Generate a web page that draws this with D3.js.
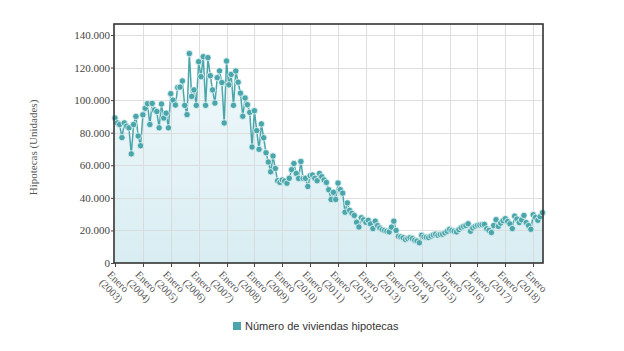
<!DOCTYPE html>
<html>
<head>
<meta charset="utf-8">
<script src="https://cdn.jsdelivr.net/npm/d3@7"></script>
<style>
  body { margin: 0; background: #fff; }
  svg { display: block; }
</style>
</head>
<body>
<div id="chart"></div>
<script>
// Monthly values (Enero ... Diciembre)
const v2003 = [89000, 86000, 85000, 77000, 86000, 84000, 83000, 67000, 85000, 90000, 78000, 72000];
const v2004 = [91000, 95000, 97800, 85000, 98000, 94000, 93000, 83000, 97600, 89000, 92000, 83000];
const v2005 = [104000, 100000, 97000, 107800, 108000, 111800, 96800, 91100, 128600, 102300, 106300, 96800];
const v2006 = [123600, 114400, 126700, 96800, 126100, 115000, 106300, 98200, 113800, 118000, 110800, 86000];
const v2007 = [124000, 109400, 115800, 96800, 117900, 111000, 104300, 90100, 101300, 97200, 92500, 71200];
const v2008 = [93500, 81300, 69800, 85400, 76900, 67700, 62000, 56000, 65700, 58000, 50500, 49500];
const v2009 = [51000, 50300, 49000, 52000, 57300, 61100, 55000, 51900, 62300, 51900, 52000, 47000];
const v2010 = [53600, 54000, 52000, 50500, 55000, 53000, 51000, 49500, 45000, 39000, 43400, 39000];
const v2011 = [49100, 45000, 42900, 31200, 36900, 32300, 30500, 29200, 25000, 22100, 27800, 26500];
const v2012 = [25000, 26200, 24000, 21100, 25700, 23000, 21500, 20500, 20000, 19500, 19100, 22000];
const v2013 = [25700, 20000, 16400, 16000, 15500, 14400, 15000, 15500, 15000, 14000, 13500, 12400];
const v2014 = [17000, 16000, 15800, 15600, 16500, 17200, 17700, 17000, 17500, 17700, 18500, 19500];
const v2015 = [20700, 20000, 19500, 19100, 20500, 21700, 22500, 23000, 24100, 19500, 21500, 22500];
const v2016 = [23100, 23300, 23500, 23700, 21000, 20000, 18700, 23000, 26600, 22500, 24500, 26000];
const v2017 = [27200, 25500, 24000, 21100, 28800, 27000, 24800, 26500, 29200, 24800, 23000, 20700];
const v2018 = [29600, 28000, 26200, 28500, 30900];

const tickYears = [2003, 2004, 2005, 2006, 2007, 2008, 2009, 2010, 2011, 2012, 2013, 2014, 2015, 2016, 2017, 2018];
const yTicks = [0, 20000, 40000, 60000, 80000, 100000, 120000, 140000];
const seriesName = 'Número de viviendas hipotecas';
const yTitle = 'Hipotecas (Unidades)';

// Build the monthly series: index = months since Enero 2003
const values = [].concat(v2003, v2004, v2005, v2006, v2007, v2008, v2009, v2010,
    v2011, v2012, v2013, v2014, v2015, v2016, v2017, v2018);
const data = values.map((v, i) => ({ m: i, v: v }));

const W = 624, H = 351;
const plot = { left: 114, right: 543, top: 24, bottom: 263 };
const color = '#4ba6ab';
const serif = '"Liberation Serif", "Times New Roman", serif';

const svg = d3.select('#chart').append('svg')
    .attr('width', W)
    .attr('height', H);

// Scales
const x = d3.scaleLinear()
    .domain([0, values.length - 1])
    .range([plot.left + 1, plot.right - 0.5]);
const y = d3.scaleLinear()
    .domain([0, 140000])
    .range([plot.bottom, 35]);

// Gradient for the area
const defs = svg.append('defs');
const grad = defs.append('linearGradient')
    .attr('id', 'areaGrad')
    .attr('x1', 0).attr('y1', 0).attr('x2', 0).attr('y2', 1);
grad.append('stop').attr('offset', '0%').attr('stop-color', '#f1f9fb');
grad.append('stop').attr('offset', '100%').attr('stop-color', '#d8edf2');

// Area under the line
const area = d3.area()
    .x(d => x(d.m))
    .y0(plot.bottom)
    .y1(d => y(d.v));
svg.append('path')
    .datum(data)
    .attr('d', area)
    .attr('fill', 'url(#areaGrad)');

// Grid lines (on top of area, light)
const grid = svg.append('g').attr('stroke', '#d9d9d9').attr('stroke-width', 1).attr('opacity', 0.85);
grid.selectAll('.gy')
    .data(yTicks.slice(1))
    .enter().append('line')
    .attr('x1', plot.left).attr('x2', plot.right)
    .attr('y1', d => Math.round(y(d)) + 0.5).attr('y2', d => Math.round(y(d)) + 0.5);
grid.selectAll('.gx')
    .data(tickYears.slice(1))
    .enter().append('line')
    .attr('x1', d => Math.round(x((d - 2003) * 12)) + 0.5)
    .attr('x2', d => Math.round(x((d - 2003) * 12)) + 0.5)
    .attr('y1', plot.top).attr('y2', plot.bottom);

// Line
const line = d3.line()
    .x(d => x(d.m))
    .y(d => y(d.v));
svg.append('path')
    .datum(data)
    .attr('d', line)
    .attr('fill', 'none')
    .attr('stroke', color)
    .attr('stroke-width', 1.5);

// Dots
svg.append('g').selectAll('circle')
    .data(data)
    .enter().append('circle')
    .attr('cx', d => x(d.m))
    .attr('cy', d => y(d.v))
    .attr('r', 3.2)
    .attr('fill', color)
    .attr('stroke', '#e8f6f7')
    .attr('stroke-width', 0.8);

// Frame
svg.append('rect')
    .attr('x', plot.left).attr('y', plot.top)
    .attr('width', plot.right - plot.left)
    .attr('height', plot.bottom - plot.top)
    .attr('fill', 'none')
    .attr('stroke', '#333')
    .attr('stroke-width', 1.6);

// Y axis
const fmt = d3.formatLocale({ decimal: ',', thousands: '.', grouping: [3], currency: ['', ''] }).format(',');
const yAxis = svg.append('g')
    .attr('transform', `translate(${plot.left}, 0)`)
    .call(d3.axisLeft(y).tickValues(yTicks).tickFormat(fmt).tickSize(3).tickPadding(1))
    .attr('font-family', serif)
    .attr('font-size', 11);
yAxis.select('.domain').remove();
yAxis.selectAll('line').attr('stroke', '#444');
yAxis.selectAll('text').attr('fill', '#444');

// X axis ticks
const xTicks = svg.append('g');
xTicks.selectAll('line')
    .data(tickYears)
    .enter().append('line')
    .attr('x1', d => Math.round(x((d - 2003) * 12)) + 0.5)
    .attr('x2', d => Math.round(x((d - 2003) * 12)) + 0.5)
    .attr('y1', plot.bottom).attr('y2', plot.bottom + 4)
    .attr('stroke', '#444');

// X labels: two lines, rotated 45deg
const xl = svg.append('g').selectAll('text')
    .data(tickYears)
    .enter().append('text')
    .attr('transform', d => `translate(${x((d - 2003) * 12) - 3}, ${plot.bottom + 7}) rotate(45)`)
    .attr('font-family', serif)
    .attr('font-size', 10.5)
    .attr('fill', '#555');
xl.append('tspan').attr('x', 0).attr('dy', '0.7em').text('Enero');
xl.append('tspan').attr('x', 0).attr('dy', '1.1em').text(d => `(${d})`);

// Y title
svg.append('text')
    .attr('transform', `translate(37, ${(plot.top + plot.bottom) / 2 + 4}) rotate(-90)`)
    .attr('text-anchor', 'middle')
    .attr('font-family', serif)
    .attr('font-size', 11)
    .attr('fill', '#555')
    .text(yTitle);

// Legend
const legend = svg.append('g').attr('transform', 'translate(233, 322)');
legend.append('rect')
    .attr('width', 8).attr('height', 8)
    .attr('fill', color);
legend.append('text')
    .attr('x', 12).attr('y', 8)
    .attr('font-family', '"Liberation Sans", Arial, sans-serif')
    .attr('font-size', 11)
    .attr('fill', '#333')
    .text(seriesName);
</script>
</body>
</html>
